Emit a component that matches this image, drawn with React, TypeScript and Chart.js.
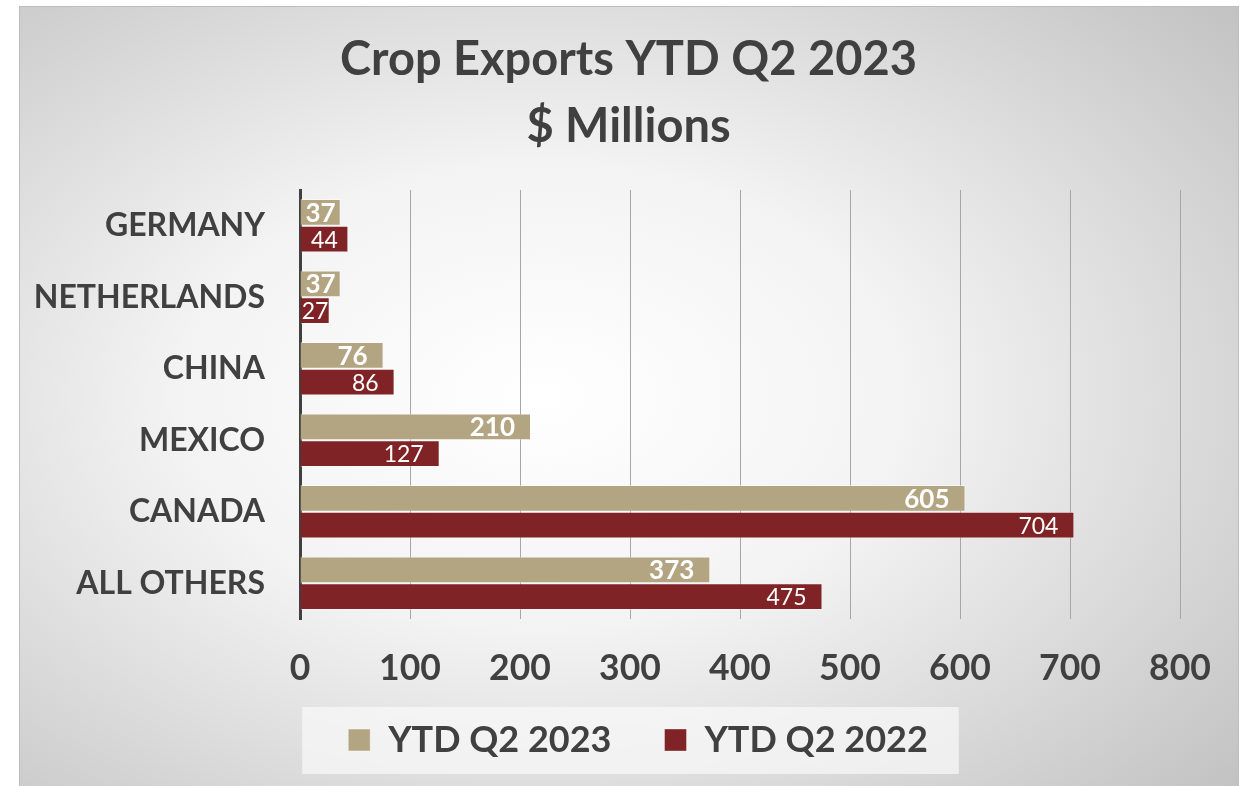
import React, { useEffect, useRef } from "react";
import { Chart, registerables } from "chart.js";

Chart.register(...registerables);

const categories = ["GERMANY", "NETHERLANDS", "CHINA", "MEXICO", "CANADA", "ALL OTHERS"];
const ytd2023 = [37, 37, 76, 210, 605, 373];
const ytd2022 = [44, 27, 86, 127, 704, 475];
const seriesLabels = ["YTD Q2 2023", "YTD Q2 2022"];
const titleLines = ["Crop Exports YTD Q2 2023", "$ Millions"];
const xMin = 0;
const xMax = 800;
const xStep = 100;

const FONT = "Lato, 'Open Sans', sans-serif";
const TEXT = "#404040";
const GOLD = "#b4a582";
const RED = "#802326";

// small horizontal nudges of the title and legend blocks
const boxShiftPlugin = {
  id: "boxShift",
  afterLayout(chart: any) {
    const t = chart.titleBlock;
    if (t) {
      t.left -= 3.5;
      t.right -= 3.5;
    }
    const lg = chart.legend;
    if (lg) {
      lg.left += 6;
      lg.right += 6;
    }
  },
};

const legendBgPlugin = {
  id: "legendBg",
  beforeDraw(chart: any) {
    const lg = chart.legend;
    if (!lg || !lg.legendHitBoxes || !lg.legendHitBoxes.length) return;
    const hb = lg.legendHitBoxes;
    const first = hb[0];
    const last = hb[hb.length - 1];
    const left = first.left - 46;
    const right = last.left + last.width + 31;
    const cy = first.top + first.height / 2;
    const ctx = chart.ctx;
    ctx.save();
    ctx.fillStyle = "rgba(250,250,250,0.7)";
    ctx.fillRect(left, cy - 33, right - left, 67);
    ctx.restore();
  },
};

const dataLabelPlugin = {
  id: "dataLabels",
  afterDatasetsDraw(chart: any) {
    const ctx = chart.ctx;
    chart.data.datasets.forEach((ds: any, di: number) => {
      const meta = chart.getDatasetMeta(di);
      if (meta.hidden) return;
      ctx.save();
      ctx.fillStyle = "#ffffff";
      ctx.textBaseline = "middle";
      ctx.font = di === 0 ? `bold 26px ${FONT}` : `23px ${FONT}`;
      meta.data.forEach((bar: any, i: number) => {
        const text = String(ds.data[i]);
        const w = ctx.measureText(text).width;
        const end = bar.x;
        const start = bar.base;
        let x = end - 16 - w;
        if (x < start + 8) x = (start + end) / 2 - w / 2;
        ctx.textAlign = "left";
        ctx.fillText(text, x, bar.y + 1);
      });
      ctx.restore();
    });
  },
};

const noClip = (scale: any) => {
  scale._computeLabelArea = () => undefined;
};

export default function App() {
  const canvasRef = useRef<HTMLCanvasElement | null>(null);

  useEffect(() => {
    if (!canvasRef.current) return;
    const chart = new Chart(canvasRef.current, {
      type: "bar",
      data: {
        labels: categories,
        datasets: [
          {
            label: seriesLabels[0],
            data: ytd2023,
            backgroundColor: GOLD,
            borderColor: "rgba(255,255,255,0.45)",
            borderWidth: 1,
            categoryPercentage: 0.746,
            barPercentage: 1,
          },
          {
            label: seriesLabels[1],
            data: ytd2022,
            backgroundColor: RED,
            borderColor: "rgba(255,255,255,0.35)",
            borderWidth: 1,
            categoryPercentage: 0.746,
            barPercentage: 1,
          },
        ],
      },
      options: {
        indexAxis: "y",
        animation: false,
        responsive: true,
        maintainAspectRatio: false,
        layout: { padding: { left: 65, right: 59, top: 0, bottom: 18 } },
        plugins: {
          title: {
            display: true,
            text: titleLines,
            color: TEXT,
            font: { family: FONT, size: 47, weight: "bold", lineHeight: 67 / 47 },
            padding: { top: 20, bottom: 30 },
          },
          legend: {
            position: "bottom",
            labels: {
              color: TEXT,
              font: { family: FONT, size: 36, weight: "bold" },
              boxWidth: 22,
              boxHeight: 22,
              padding: 53,
            },
          },
          tooltip: { enabled: false },
        },
        scales: {
          x: {
            type: "linear",
            min: xMin,
            max: xMax,
            ticks: {
              stepSize: xStep,
              color: TEXT,
              font: { family: FONT, size: 35.5, weight: "bold" },
              padding: 28,
            },
            grid: { color: "#a6a6a6", lineWidth: 1, drawTicks: false },
            border: { display: false },
            afterFit(scale: any) {
              scale.height = 50;
              noClip(scale);
            },
          },
          y: {
            z: 1,
            ticks: {
              color: TEXT,
              font: { family: FONT, size: 32, weight: "bold" },
              padding: 35,
            },
            grid: { display: false, drawTicks: false },
            border: { display: true, color: "#404040", width: 3 },
            afterFit(scale: any) {
              scale.width = 216;
              noClip(scale);
            },
          },
        },
      },
      plugins: [boxShiftPlugin, legendBgPlugin, dataLabelPlugin],
    } as any);
    return () => chart.destroy();
  }, []);

  return (
    <div>
      <div
        style={{
          position: "absolute",
          left: 19,
          top: 6,
          width: 1220,
          height: 780,
          boxSizing: "border-box",
          borderTop: "1px solid #bdbdbd",
          borderLeft: "1px solid #bdbdbd",
          borderRight: "1px solid #bdbdbd",
          background:
            "radial-gradient(ellipse 75% 75% at 43% 50%, #ffffff 0%, #f3f3f3 40%, #c3c3c3 100%)",
        }}
      />
      <div style={{ position: "absolute", left: 19, top: 6, width: 1220, height: 780 }}>
        <canvas ref={canvasRef} />
      </div>
    </div>
  );
}
